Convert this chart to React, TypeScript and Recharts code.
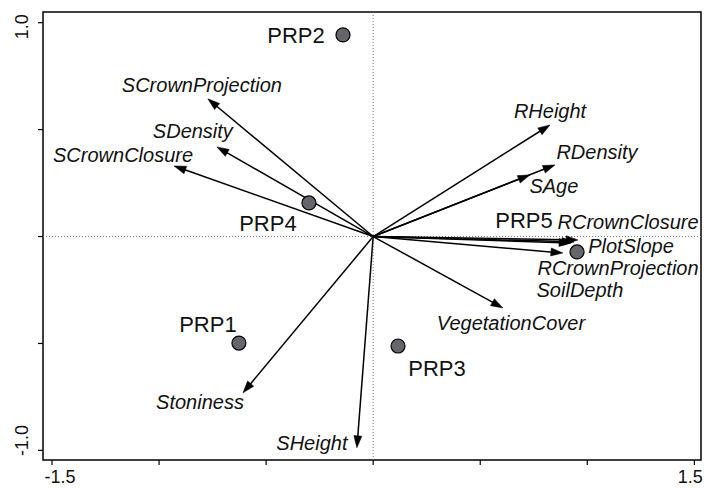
import React from 'react';
import { ScatterChart, Scatter, XAxis, YAxis, ReferenceLine, ReferenceArea } from 'recharts';

// Environmental variables (arrow tips, axis 1 / axis 2)
const variableNames = [
  'SCrownProjection', 'SDensity', 'SCrownClosure', 'Stoniness', 'SHeight',
  'VegetationCover', 'SAge', 'RDensity', 'RHeight', 'RCrownClosure',
  'PlotSlope', 'RCrownProjection', 'SoilDepth',
];
const variableAxis1 = [-0.772, -0.730, -0.930, -0.608, -0.076, 0.606, 0.732, 0.849, 0.826, 0.957, 0.938, 0.924, 0.886];
const variableAxis2 = [0.644, 0.419, 0.330, -0.731, -0.988, -0.334, 0.288, 0.335, 0.522, -0.016, -0.025, -0.030, -0.077];

// Sites
const siteNames = ['PRP1', 'PRP2', 'PRP3', 'PRP4', 'PRP5'];
const siteAxis1 = [-0.627, -0.141, 0.116, -0.300, 0.952];
const siteAxis2 = [-0.498, 0.943, -0.512, 0.157, -0.072];

// Axis ticks
const xTicks = [-1.5, -1.0, -0.5, 0, 0.5, 1.0, 1.5];
const yTicks = [-1.0, -0.5, 0, 0.5, 1.0];
const xTickLabels: Record<string, string> = { '-1.5': '-1.5', '1.5': '1.5' };
const yTickLabels: Record<string, string> = { '-1': '-1.0', '1': '1.0' };

// Layout: label offsets (pixels, label centre relative to point)
const variableLabelOffsets: [number, number][] = [
  [-6, -14], [-24, -16], [-51, -11], [-43, 9], [-45, -5],
  [8, 15], [24, 11], [42, -13], [0, -14], [50, -18],
  [57, 4], [47, 25], [17, 37],
];
const siteLabelOffsets: [number, number][] = [
  [-31, -19], [-47, 0], [39, 22], [-41, 20], [-53, -32],
];

const X_DOMAIN: [number, number] = [-1.542, 1.531];
const Y_DOMAIN: [number, number] = [-1.045, 1.05];
const FONT = '"Liberation Sans", Arial, Helvetica, sans-serif';

const siteData = siteNames.map((name, i) => ({ name, x: siteAxis1[i], y: siteAxis2[i], off: siteLabelOffsets[i] }));

const makeArrow = (label: string, off: [number, number]) => (props: any) => {
  const x1 = Number(props.x1), y1 = Number(props.y1), x2 = Number(props.x2), y2 = Number(props.y2);
  const dx = x2 - x1, dy = y2 - y1;
  const len = Math.hypot(dx, dy) || 1;
  const ux = dx / len, uy = dy / len;
  const hl = 12, hw = 4;
  const bx = x2 - ux * hl, by = y2 - uy * hl;
  const p1 = `${bx - uy * hw},${by + ux * hw}`;
  const p2 = `${bx + uy * hw},${by - ux * hw}`;
  return (
    <g>
      <line x1={x1} y1={y1} x2={bx + ux * 2} y2={by + uy * 2} stroke="#000" strokeWidth={1.5} />
      <polygon points={`${x2},${y2} ${p1} ${p2}`} fill="#000" stroke="#000" strokeWidth={0.5} />
      <text x={x2 + off[0]} y={y2 + off[1] + 7} textAnchor="middle" fontFamily={FONT} fontStyle="italic" fontSize={20} fill="#111">
        {label}
      </text>
    </g>
  );
};

const SiteShape = (props: any) => {
  const { cx, cy, payload } = props;
  return (
    <g>
      <circle cx={cx} cy={cy} r={7} fill="#64666c" stroke="#000" strokeWidth={1.2} />
      <text x={cx + payload.off[0]} y={cy + payload.off[1] + 8} textAnchor="middle" fontFamily={FONT} fontSize={22} fill="#111">
        {payload.name}
      </text>
    </g>
  );
};

const XTick = (props: any) => {
  const { x, payload } = props;
  const lab = xTickLabels[String(payload.value)];
  if (!lab) return null;
  const shift = payload.value < 0 ? 8 : -4;
  return (
    <text x={x + shift} y={483} textAnchor="middle" fontFamily={FONT} fontSize={18} fill="#111">{lab}</text>
  );
};

const YTick = (props: any) => {
  const { y, payload } = props;
  const lab = yTickLabels[String(payload.value)];
  if (!lab) return null;
  const shift = payload.value > 0 ? 4 : -10;
  const cy = y + shift;
  return (
    <text x={0} y={0} transform={`translate(28, ${cy}) rotate(-90)`} textAnchor="middle" fontFamily={FONT} fontSize={18} fill="#111">{lab}</text>
  );
};

export default function App() {
  return (
    <div style={{ position: 'absolute', left: 0, top: 0, width: 705, height: 488, background: '#fff' }}>
      <ScatterChart width={705} height={488} margin={{ top: 12, right: 4, bottom: 0, left: 0 }}>
        <XAxis
          type="number"
          dataKey="x"
          domain={X_DOMAIN}
          ticks={xTicks}
          interval={0}
          allowDataOverflow
          axisLine={false}
          tickLine={{ stroke: '#000', strokeWidth: 1.2 }}
          tickSize={5}
          tickMargin={0}
          height={28}
          tick={<XTick />}
        />
        <YAxis
          type="number"
          dataKey="y"
          domain={Y_DOMAIN}
          ticks={yTicks}
          interval={0}
          allowDataOverflow
          axisLine={false}
          tickLine={{ stroke: '#000', strokeWidth: 1.2 }}
          tickSize={5}
          tickMargin={0}
          width={43}
          tick={<YTick />}
        />
        <ReferenceLine x={0} stroke="#777" strokeWidth={1} strokeDasharray="1 2" />
        <ReferenceLine y={0} stroke="#777" strokeWidth={1} strokeDasharray="1 2" />
        <ReferenceArea x1={X_DOMAIN[0]} x2={X_DOMAIN[1]} y1={Y_DOMAIN[0]} y2={Y_DOMAIN[1]} fill="none" fillOpacity={0} stroke="#000" strokeWidth={1.5} ifOverflow="visible" />
        {variableNames.map((name, i) => (
          <ReferenceLine
            key={name}
            segment={[{ x: 0, y: 0 }, { x: variableAxis1[i], y: variableAxis2[i] }]}
            ifOverflow="visible"
            shape={makeArrow(name, variableLabelOffsets[i])}
          />
        ))}
        <Scatter data={siteData} isAnimationActive={false} shape={<SiteShape />} />
      </ScatterChart>
    </div>
  );
}
